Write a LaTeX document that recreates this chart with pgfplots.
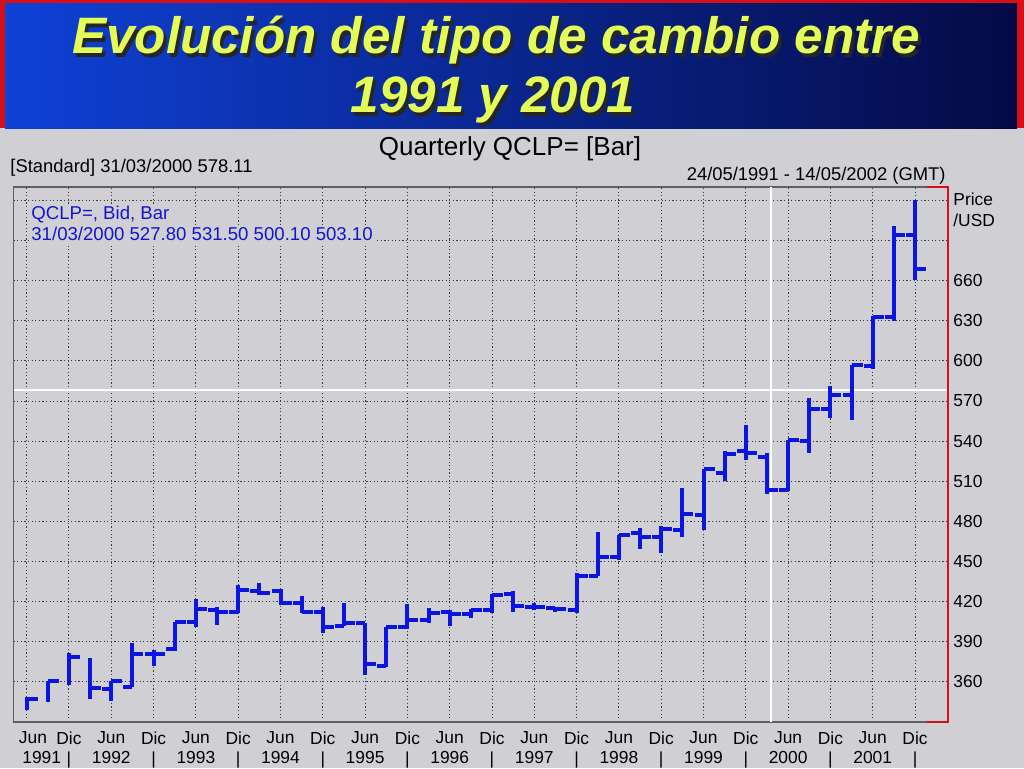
\documentclass[border=0pt]{standalone}
\usepackage{fontspec}
\setmainfont{Liberation Sans}
\usepackage{pgfplots}
\pgfplotsset{compat=1.18}
\usepackage{pgfplotstable}

\definecolor{bg}{RGB}{208,208,212}
\definecolor{barblue}{RGB}{12,20,225}
\definecolor{titlefg}{RGB}{228,252,88}
\definecolor{gridc}{RGB}{60,60,60}
\definecolor{framec}{RGB}{95,95,95}
\definecolor{infoblue}{RGB}{20,20,205}
\definecolor{tbl}{RGB}{15,65,215}
\definecolor{tbm}{RGB}{12,45,180}
\definecolor{tbr}{RGB}{5,10,70}
\definecolor{framered}{RGB}{215,15,25}

% open tick to the left, close tick to the right
\pgfdeclareplotmark{otick}{\pgfpathmoveto{\pgfqpoint{-4.5pt}{0pt}}\pgfpathlineto{\pgfqpoint{0pt}{0pt}}\pgfusepathqstroke}
\pgfdeclareplotmark{ctick}{\pgfpathmoveto{\pgfqpoint{0pt}{0pt}}\pgfpathlineto{\pgfqpoint{5.5pt}{0pt}}\pgfusepathqstroke}

% quarterly bars, k = quarter index (0 = Q2 1991)
\pgfplotstableread{
k  o     h     l     c
0  nan   348.8 339.1 347.3
1  nan   360.8 345.3 360.5
2  nan   381.7 357.8 378.9
3  nan   378.2 347.3 355.5
4  354.8 360.8 346.0 360.3
5  356.5 389.0 355.8 381.0
6  381.0 384.0 372.2 381.0
7  384.5 405.1 383.4 404.7
8  404.7 421.9 401.4 414.4
9  413.9 416.3 402.6 411.9
10 411.9 432.6 411.4 428.8
11 428.3 434.3 425.1 426.8
12 428.3 429.4 417.6 419.3
13 419.3 424.3 411.9 412.6
14 412.6 416.3 396.9 401.4
15 401.9 419.3 401.9 403.9
16 403.9 403.9 365.2 373.2
17 372.0 401.4 371.5 401.4
18 401.4 418.1 399.7 406.4
19 406.4 415.1 403.9 411.4
20 411.9 413.9 401.9 410.9
21 410.6 414.4 407.7 413.9
22 413.9 425.6 411.4 425.1
23 425.6 428.1 411.9 416.9
24 416.3 418.9 413.9 416.3
25 415.6 416.3 411.9 414.4
26 413.9 441.3 411.4 439.3
27 439.3 472.4 438.8 453.7
28 453.7 470.0 451.3 470.0
29 471.3 475.4 459.3 468.3
30 468.0 476.7 456.7 474.2
31 473.7 504.9 468.3 485.7
32 484.9 519.1 473.7 519.1
33 516.1 532.3 509.9 530.6
34 532.3 552.3 526.1 531.1
35 527.8 531.5 500.1 503.1
36 503.6 540.5 502.4 540.5
37 539.8 572.2 531.1 564.0
38 564.0 580.9 557.3 574.7
39 574.7 597.2 556.0 596.6
40 596.4 633.3 593.9 632.8
41 632.8 700.6 630.1 694.4
42 694.4 720.6 660.7 669.0
}\qclp

\begin{document}
\begin{tikzpicture}
% slide background and title bar
\fill[bg] (0,0) rectangle (512pt,384pt);
\fill[framered] (0,320pt) rectangle (512pt,384pt);
\shade[left color=tbl, middle color=tbm, right color=tbr] (2.5pt,320pt) rectangle (508.5pt,382pt);

\begin{scope}[font=\fontsize{25.6}{28}\selectfont\bfseries\itshape]
\node[anchor=base, text=black!85] at (249.5pt,355.5pt) {Evolución del tipo de cambio entre};
\node[anchor=base, text=titlefg] at (248pt,357pt) {Evolución del tipo de cambio entre};
\node[anchor=base, text=black!85] at (248pt,326pt) {1991 y 2001};
\node[anchor=base, text=titlefg] at (246.5pt,327.5pt) {1991 y 2001};
\end{scope}

\begin{axis}[
  at={(6.75pt,23pt)}, anchor=south west,
  width=467.25pt, height=267.5pt, scale only axis,
  clip=false,
  xmin=-0.624, xmax=43.56,
  ymin=330, ymax=730,
  xtick={0,2,...,42},
  xticklabels={{\hspace*{6.3pt}Jun\\\hspace*{15pt}1991},{Dic\\|},{Jun\\1992},{Dic\\|},{Jun\\1993},{Dic\\|},
    {Jun\\1994},{Dic\\|},{Jun\\1995},{Dic\\|},{Jun\\1996},{Dic\\|},
    {Jun\\1997},{Dic\\|},{Jun\\1998},{Dic\\|},{Jun\\1999},{Dic\\|},
    {Jun\\2000},{Dic\\|},{Jun\\2001},{Dic\\|}},
  ytick={360,390,...,720},
  yticklabels={360,390,420,450,480,510,540,570,600,630,660,{},{}},
  yticklabel pos=right,
  xticklabel style={align=center, inner sep=0pt},
  yticklabel style={anchor=west, inner sep=0pt},
  xticklabel shift=4.5pt,
  yticklabel shift=2.5pt,
  ticklabel style={font=\fontsize{8.7}{10.2}\selectfont},
  major tick length=0pt,
  tick style={draw=none},
  axis line style={framec, line width=0.75pt},
  grid=major,
  major grid style={gridc, line width=0.5pt, dash pattern=on 0.6pt off 1.2pt},
]
% cursor lines at 31/03/2000, 578.11
\draw[white, line width=1pt] (axis cs:35.19,330) -- (axis cs:35.19,730);
\draw[white, line width=1pt] (axis cs:-0.624,578.11) -- (axis cs:43.56,578.11);

% high-low lines
\addplot[draw=none, mark=none, forget plot,
  error bars/.cd, y dir=both, y explicit, error mark=none,
  error bar style={draw=barblue, line width=2pt}]
  table[x=k, y=c, y error plus expr=\thisrow{h}-\thisrow{c},
        y error minus expr=\thisrow{c}-\thisrow{l}] {\qclp};
% open and close ticks
\addplot[only marks, mark=otick, draw=barblue, line width=2pt, forget plot]
  table[x=k, y=o] {\qclp};
\addplot[only marks, mark=ctick, draw=barblue, line width=2pt, forget plot]
  table[x=k, y=c] {\qclp};

% red right edge of the frame
\draw[framered, line width=0.75pt] (axis cs:42.57,730) -| (axis cs:43.56,330) -- (axis cs:42.57,330);
\end{axis}

% header texts
\node[anchor=base, font=\fontsize{13}{15}\selectfont] at (255pt,306pt) {Quarterly QCLP= [Bar]};
\node[anchor=base west, inner sep=0pt, font=\fontsize{9.2}{11}\selectfont] at (5pt,298pt) {[Standard] 31/03/2000 578.11};
\node[anchor=base east, inner sep=0pt, font=\fontsize{9.2}{11}\selectfont] at (473pt,293.75pt) {24/05/1991 - 14/05/2002 (GMT)};
\node[anchor=base west, inner sep=1pt, fill=bg, text=infoblue, font=\fontsize{9.3}{11}\selectfont] at (14.5pt,274.25pt) {QCLP=, Bid, Bar};
\node[anchor=base west, inner sep=1pt, fill=bg, text=infoblue, font=\fontsize{9.3}{11}\selectfont] at (14.5pt,263.75pt) {31/03/2000 527.80 531.50 500.10 503.10};
\node[anchor=base west, inner sep=0pt, font=\fontsize{8.7}{10}\selectfont] at (476.5pt,281.5pt) {Price};
\node[anchor=base west, inner sep=0pt, font=\fontsize{8.7}{10}\selectfont] at (476.5pt,271pt) {/USD};

\pgfresetboundingbox
\useasboundingbox (0,0) rectangle (512pt,384pt);
\end{tikzpicture}
\end{document}
